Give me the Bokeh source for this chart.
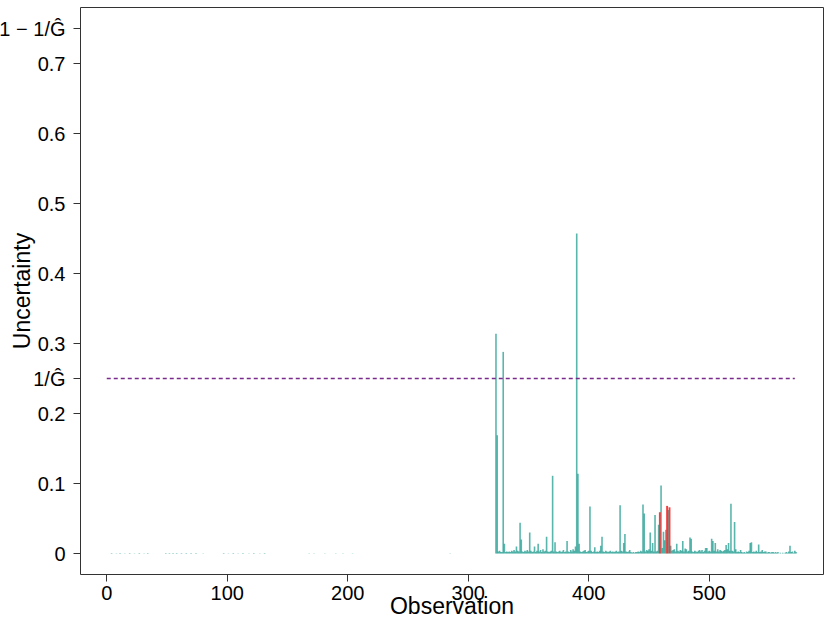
from bokeh.plotting import figure
from bokeh.models import Range1d, FixedTicker, ColumnDataSource
from bokeh.embed import file_html
from bokeh.resources import INLINE

# ---------------- data ----------------
n_obs = 572
G = 4

# near-zero uncertainties among the first observations
low_obs = [4, 8, 11, 15, 19, 23, 27, 31, 34, 49, 52, 55, 58, 62, 66, 70, 74, 80,
           97, 101, 105, 109, 113, 118, 122, 127, 131, 168, 172, 181, 190, 196, 204, 285]
low_unc = [0.0006, 0.0005, 0.0006, 0.0005, 0.0006, 0.0005, 0.0006, 0.0005, 0.0006,
           0.0008, 0.0006, 0.0008, 0.0006, 0.0008, 0.0006, 0.0008, 0.0006, 0.0005,
           0.0006, 0.0005, 0.0006, 0.0005, 0.0006, 0.0005, 0.0006, 0.0005, 0.0006,
           0.0005, 0.0005, 0.0005, 0.0005, 0.0005, 0.0005, 0.0005]

# uncertainties for observations 321 .. 572
hi_start = 321
hi_unc = [
    0.000, 0.000, 0.314, 0.169, 0.003, 0.004, 0.002, 0.002, 0.288, 0.014,  # 321-330
    0.002, 0.003, 0.002, 0.003, 0.002, 0.004, 0.003, 0.005, 0.003, 0.010,  # 331-340
    0.004, 0.003, 0.044, 0.020, 0.003, 0.002, 0.004, 0.003, 0.005, 0.003,  # 341-350
    0.030, 0.004, 0.002, 0.003, 0.010, 0.002, 0.004, 0.014, 0.003, 0.005,  # 351-360
    0.002, 0.006, 0.003, 0.004, 0.024, 0.003, 0.002, 0.003, 0.004, 0.111,  # 361-370
    0.003, 0.016, 0.003, 0.002, 0.003, 0.004, 0.002, 0.003, 0.005, 0.002,  # 371-380
    0.003, 0.018, 0.003, 0.002, 0.005, 0.003, 0.006, 0.004, 0.010, 0.457,  # 381-390
    0.114, 0.014, 0.003, 0.002, 0.003, 0.004, 0.005, 0.002, 0.003, 0.004,  # 391-400
    0.067, 0.004, 0.002, 0.003, 0.009, 0.002, 0.003, 0.002, 0.004, 0.011,  # 401-410
    0.024, 0.003, 0.002, 0.004, 0.003, 0.002, 0.003, 0.004, 0.002, 0.003,  # 411-420
    0.002, 0.003, 0.004, 0.002, 0.003, 0.069, 0.004, 0.003, 0.015, 0.028,  # 421-430
    0.003, 0.002, 0.003, 0.005, 0.002, 0.001, 0.002, 0.001, 0.002, 0.002,  # 431-440
    0.003, 0.002, 0.004, 0.003, 0.070, 0.057, 0.003, 0.005, 0.004, 0.006,  # 441-450
    0.030, 0.004, 0.015, 0.003, 0.055, 0.003, 0.004, 0.041, 0.059, 0.097,  # 451-460
    0.008, 0.031, 0.019, 0.034, 0.068, 0.062, 0.066, 0.011, 0.004, 0.005,  # 461-470
    0.006, 0.003, 0.014, 0.004, 0.003, 0.005, 0.004, 0.018, 0.003, 0.007,  # 471-480
    0.006, 0.003, 0.004, 0.023, 0.021, 0.003, 0.002, 0.004, 0.003, 0.002,  # 481-490
    0.004, 0.005, 0.003, 0.005, 0.002, 0.004, 0.008, 0.008, 0.003, 0.004,  # 491-500
    0.003, 0.021, 0.018, 0.004, 0.015, 0.003, 0.006, 0.003, 0.005, 0.004,  # 501-510
    0.003, 0.004, 0.005, 0.012, 0.006, 0.015, 0.004, 0.071, 0.004, 0.003,  # 511-520
    0.045, 0.006, 0.002, 0.003, 0.002, 0.005, 0.002, 0.001, 0.002, 0.001,  # 521-530
    0.003, 0.002, 0.004, 0.015, 0.016, 0.002, 0.003, 0.002, 0.004, 0.002,  # 531-540
    0.013, 0.002, 0.003, 0.005, 0.002, 0.003, 0.003, 0.001, 0.002, 0.002,  # 541-550
    0.001, 0.002, 0.002, 0.001, 0.002, 0.001, 0.002, 0.000, 0.001, 0.000,  # 551-560
    0.001, 0.000, 0.001, 0.002, 0.001, 0.003, 0.011, 0.002, 0.003, 0.001,  # 561-570
    0.004, 0.002,                                                          # 571-572
]

# misclassified observations (drawn in red)
err_obs = [459, 465, 467]

y_ticks = [0, 0.1, 0.2, 0.25, 0.3, 0.4, 0.5, 0.6, 0.7, 0.75]
y_tick_labels = ["0", "0.1", "0.2", "1/Ĝ", "0.3", "0.4", "0.5", "0.6", "0.7", "1 − 1/Ĝ"]
x_ticks = [0, 100, 200, 300, 400, 500]
ref_x = [0, 571]
x_lo, x_hi = -21.8, 594.8
y_lo, y_hi = -0.03, 0.78

# ---------------- build sources ----------------
obs_all = low_obs + [hi_start + i for i in range(len(hi_unc))]
unc_all = low_unc + hi_unc

t_x, t_y, r_x, r_y = [], [], [], []
for o, u in zip(obs_all, unc_all):
    if u <= 0:
        continue
    if o in err_obs:
        r_x.append(o); r_y.append(u)
    else:
        t_x.append(o); t_y.append(u)

teal_src = ColumnDataSource(dict(x=t_x, y0=[0] * len(t_x), y1=t_y))
red_src = ColumnDataSource(dict(x=r_x, y0=[0] * len(r_x), y1=r_y))

FONT = "Liberation Sans"

p = figure(width=830, height=623, output_backend="svg", toolbar_location=None,
           x_range=Range1d(x_lo, x_hi), y_range=Range1d(y_lo, y_hi),
           min_border_left=80, min_border_right=7, min_border_top=7, min_border_bottom=49)

p.segment(x0="x", y0="y0", x1="x", y1="y1", source=teal_src,
          line_color="#1a9a8e", line_alpha=0.72, line_width=1.6)
p.segment(x0="x", y0="y0", x1="x", y1="y1", source=red_src,
          line_color="#f22a2a", line_alpha=0.9, line_width=1.9)

p.line(ref_x, [1.0 / G, 1.0 / G], line_color="#7a2a8c", line_width=1.3, line_dash="4 3")

p.xgrid.visible = False
p.ygrid.visible = False
p.outline_line_color = "#333333"
p.outline_line_width = 1
p.background_fill_color = "white"
p.border_fill_color = "white"

p.yaxis.ticker = FixedTicker(ticks=y_ticks)
p.yaxis.major_label_overrides = {t: l for t, l in zip(y_ticks, y_tick_labels)}
p.xaxis.ticker = FixedTicker(ticks=x_ticks)
p.xaxis.major_label_overrides = {t: str(t) for t in x_ticks}

for ax in (p.xaxis[0], p.yaxis[0]):
    ax.axis_line_color = None
    ax.major_tick_line_color = "#333333"
    ax.major_tick_out = 7
    ax.major_tick_in = 0
    ax.minor_tick_line_color = None
    ax.major_label_text_font = FONT
    ax.major_label_text_font_size = "20px"
    ax.major_label_text_color = "black"
    ax.axis_label_text_font = FONT
    ax.axis_label_text_font_size = "23px"
    ax.axis_label_text_font_style = "normal"
    ax.axis_label_text_color = "black"

p.yaxis.axis_label = "Uncertainty"
p.yaxis.major_label_orientation = "horizontal"
p.yaxis.major_label_standoff = 8
p.yaxis.axis_label_standoff = -39

p.xaxis.axis_label = "Observation"
p.xaxis.major_label_standoff = 4
p.xaxis.axis_label_standoff = -10

open("out.html", "w").write(file_html(p, INLINE))
